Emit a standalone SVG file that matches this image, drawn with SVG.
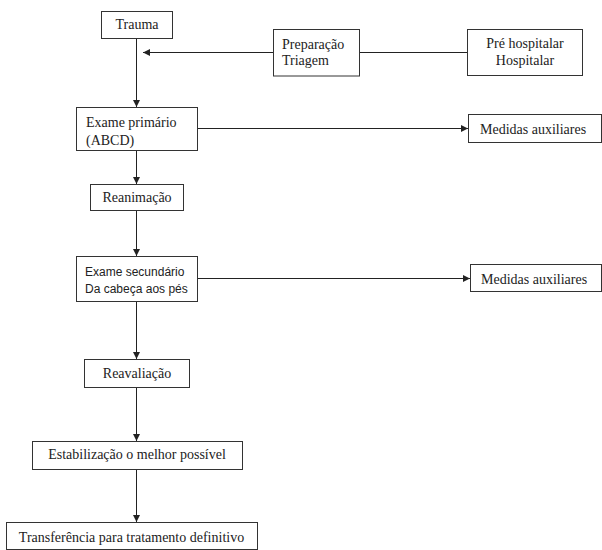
<svg xmlns="http://www.w3.org/2000/svg" width="602" height="550" viewBox="0 0 602 550">
  <defs>
    <marker id="arrow" markerUnits="userSpaceOnUse" markerWidth="8" markerHeight="8" refX="7" refY="3.5" orient="auto">
      <path d="M0,0 L7,3.5 L0,7 Z" fill="#222"/>
    </marker>
    <style>
      .box { fill: #fff; stroke: #333; stroke-width: 1; }
      .serif { font-family: "Liberation Serif", "Times New Roman", serif; font-size: 14px; fill: #222; }
      .sans { font-family: "Liberation Sans", Arial, sans-serif; font-size: 12px; fill: #222; }
      .mid { text-anchor: middle; }
      .edge { fill: none; stroke: #222; stroke-width: 1; }
      .arr { marker-end: url(#arrow); }
    </style>
  </defs>
  <rect width="602" height="550" fill="#fff"/>

  <!-- connectors -->
  <g id="connectors">
    <line class="edge arr" x1="136.5" y1="38" x2="136.5" y2="107"/>
    <line class="edge arr" x1="273" y1="52.5" x2="143" y2="52.5"/>
    <line class="edge" x1="359" y1="52.5" x2="467" y2="52.5"/>
    <line class="edge arr" x1="197" y1="128.5" x2="468" y2="128.5"/>
    <line class="edge arr" x1="136.5" y1="150" x2="136.5" y2="184"/>
    <line class="edge arr" x1="136.5" y1="210" x2="136.5" y2="256"/>
    <line class="edge arr" x1="197" y1="278.5" x2="470" y2="278.5"/>
    <line class="edge arr" x1="136.5" y1="301" x2="136.5" y2="359"/>
    <line class="edge arr" x1="136.5" y1="387" x2="136.5" y2="441"/>
    <line class="edge arr" x1="136.5" y1="469" x2="136.5" y2="522"/>
  </g>

  <!-- nodes -->
  <g id="trauma">
    <rect class="box" x="101.5" y="11.5" width="71" height="27"/>
    <text class="serif mid" x="137" y="29">Trauma</text>
  </g>
  <g id="preparacao">
    <rect class="box" x="273.5" y="29.5" width="86" height="46.5"/>
    <text class="serif" x="282" y="49">Preparação</text>
    <text class="serif" x="282" y="65">Triagem</text>
  </g>
  <g id="pre-hospitalar">
    <rect class="box" x="467.5" y="29.5" width="115" height="46"/>
    <text class="serif mid" x="525" y="48">Pré hospitalar</text>
    <text class="serif mid" x="525" y="65">Hospitalar</text>
  </g>
  <g id="exame-primario">
    <rect class="box" x="76.5" y="107.5" width="121" height="43"/>
    <text class="serif" x="86" y="127">Exame primário</text>
    <text class="serif" x="86" y="145">(ABCD)</text>
  </g>
  <g id="medidas-1">
    <rect class="box" x="468.5" y="114.5" width="133" height="28"/>
    <text class="serif" x="480" y="134">Medidas auxiliares</text>
  </g>
  <g id="reanimacao">
    <rect class="box" x="90.5" y="184.5" width="93" height="26"/>
    <text class="serif mid" x="137" y="202">Reanimação</text>
  </g>
  <g id="exame-secundario">
    <rect class="box" x="76.5" y="256.5" width="121" height="45"/>
    <text class="sans" x="85" y="276">Exame secundário</text>
    <text class="sans" x="85" y="293">Da cabeça aos pés</text>
  </g>
  <g id="medidas-2">
    <rect class="box" x="470.5" y="264.5" width="131" height="27"/>
    <text class="serif" x="481" y="284">Medidas auxiliares</text>
  </g>
  <g id="reavaliacao">
    <rect class="box" x="84.5" y="359.5" width="105" height="28"/>
    <text class="serif mid" x="137" y="378">Reavaliação</text>
  </g>
  <g id="estabilizacao">
    <rect class="box" x="32.5" y="441.5" width="210" height="28"/>
    <text class="serif mid" x="137" y="459">Estabilização o melhor possível</text>
  </g>
  <g id="transferencia">
    <rect class="box" x="6.5" y="522.5" width="251" height="27"/>
    <text class="serif mid" x="131.5" y="542">Transferência para tratamento definitivo</text>
  </g>
</svg>
